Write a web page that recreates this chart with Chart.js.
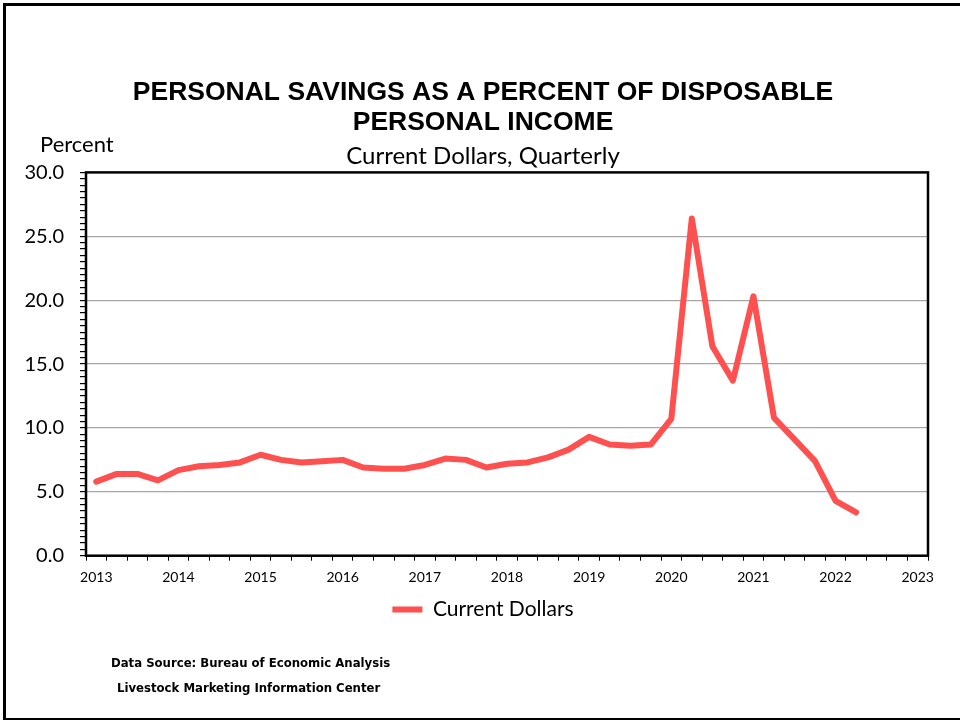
<!DOCTYPE html>
<html lang="en">
<head>
<meta charset="UTF-8">
<title>Personal Savings as a Percent of Disposable Personal Income</title>
<script src="https://cdn.jsdelivr.net/npm/chart.js"></script>
<style>
  body { margin: 0; background: #fff; overflow: hidden; }
  #frame { position: absolute; left: 3px; top: 3px; width: 970px; height: 717px; box-sizing: border-box;
           border-left: 3px solid #000; border-top: 3px solid #000; border-bottom: 2px solid #000; }
  #savingsChart { position: absolute; left: 0; top: 0; }
  .note { position: absolute; color: #000; white-space: nowrap; }
  #unit { left: 40px; top: 130px; font: 22px Lato, sans-serif; }
  .source { font: bold 13px "Liberation Sans Narrow", "DejaVu Sans Condensed", sans-serif; }
</style>
</head>
<body>
<div id="frame"></div>
<canvas id="savingsChart" width="960" height="721"></canvas>
<div class="note" id="unit">Percent</div>
<div class="note source" style="left:111px; top:655px;">Data Source: Bureau of Economic Analysis</div>
<div class="note source" style="left:117px; top:680px;">Livestock Marketing Information Center</div>
<script>
  // quarterly categories, 2013 Q1 .. 2023 Q1
  const quarters = [
    '2013 Q1', '2013 Q2', '2013 Q3', '2013 Q4',
    '2014 Q1', '2014 Q2', '2014 Q3', '2014 Q4',
    '2015 Q1', '2015 Q2', '2015 Q3', '2015 Q4',
    '2016 Q1', '2016 Q2', '2016 Q3', '2016 Q4',
    '2017 Q1', '2017 Q2', '2017 Q3', '2017 Q4',
    '2018 Q1', '2018 Q2', '2018 Q3', '2018 Q4',
    '2019 Q1', '2019 Q2', '2019 Q3', '2019 Q4',
    '2020 Q1', '2020 Q2', '2020 Q3', '2020 Q4',
    '2021 Q1', '2021 Q2', '2021 Q3', '2021 Q4',
    '2022 Q1', '2022 Q2', '2022 Q3', '2022 Q4',
    '2023 Q1'
  ];
  const yearLabels = ['2013', '2014', '2015', '2016', '2017', '2018', '2019', '2020', '2021', '2022', '2023'];

  // personal savings rate, percent
  const currentDollars = [
    5.8, 6.4, 6.4, 5.9,
    6.7, 7.0, 7.1, 7.3,
    7.9, 7.5, 7.3, 7.4,
    7.5, 6.9, 6.8, 6.8,
    7.1, 7.6, 7.5, 6.9,
    7.2, 7.3, 7.7, 8.3,
    9.3, 8.7, 8.6, 8.7,
    10.7, 26.4, 16.4, 13.7,
    20.3, 10.8, 9.1, 7.4,
    4.3, 3.4
  ];

  const plotFrame = {
    id: 'plotFrame',
    beforeDatasetsDraw(chart) {
      const a = chart.chartArea;
      const ctx = chart.ctx;
      ctx.save();
      ctx.strokeStyle = '#000';
      ctx.lineWidth = 2.5;
      ctx.strokeRect(a.left, a.top, a.right - a.left, a.bottom - a.top);
      ctx.restore();
    }
  };

  new Chart(document.getElementById('savingsChart'), {
    type: 'line',
    data: {
      labels: quarters,
      datasets: [{
        label: 'Current Dollars',
        data: currentDollars,
        borderColor: 'rgb(255, 80, 80)',
        backgroundColor: 'rgb(255, 80, 80)',
        borderWidth: 6,
        borderCapStyle: 'round',
        borderJoinStyle: 'round',
        pointRadius: 0,
        tension: 0
      }]
    },
    options: {
      responsive: false,
      animation: false,
      layout: { padding: { left: 20, right: 14, top: 78, bottom: 91 } },
      plugins: {
        title: {
          display: true,
          text: ['PERSONAL SAVINGS AS A PERCENT OF DISPOSABLE', 'PERSONAL INCOME'],
          color: '#000',
          font: { family: '"Liberation Sans", Arial, sans-serif', size: 26.5, weight: 'bold', lineHeight: 1.132 },
          padding: { top: 0, bottom: 4 }
        },
        subtitle: {
          display: true,
          text: 'Current Dollars, Quarterly',
          color: '#000',
          font: { family: 'Lato, sans-serif', size: 24, lineHeight: 1.1 },
          padding: { top: 1, bottom: 3 }
        },
        legend: {
          position: 'bottom',
          labels: {
            usePointStyle: true,
            pointStyle: 'line',
            pointStyleWidth: 30,
            color: '#000',
            padding: 5.5,
            font: { family: 'Lato, sans-serif', size: 21 }
          }
        },
        tooltip: { enabled: false }
      },
      scales: {
        x: {
          offset: true,
          grid: { offset: true, drawOnChartArea: false, tickLength: 5, tickColor: '#000' },
          border: { display: false },
          ticks: {
            autoSkip: false,
            maxRotation: 0,
            padding: 8,
            color: '#000',
            font: { family: 'Lato, sans-serif', size: 14 },
            callback: (v, i) => (i % 4 === 0 ? yearLabels[i / 4] : '')
          }
        },
        y: {
          min: 0,
          max: 30,
          afterFit(scale) { scale.width = 66; },
          grid: {
            tickLength: 6,
            tickColor: '#000',
            lineWidth: 1.2,
            color: ctx => {
              const v = ctx.tick ? ctx.tick.value : 0;
              return (v % 5 === 0 && v > 0 && v < 30) ? '#a6a6a6' : 'transparent';
            }
          },
          border: { display: false },
          ticks: {
            stepSize: 0.5,
            maxTicksLimit: 100,
            autoSkip: false,
            padding: 16,
            color: '#000',
            font: { family: 'Lato, sans-serif', size: 20 },
            callback: v => (v % 5 === 0 ? v.toFixed(1) : '')
          }
        },
        // empty spacer on the right so the titles centre like the original
        spacer: {
          position: 'right',
          afterFit(scale) { scale.width = 18; },
          grid: { display: false },
          border: { display: false },
          ticks: { display: false }
        }
      }
    },
    plugins: [plotFrame]
  });
</script>
</body>
</html>
